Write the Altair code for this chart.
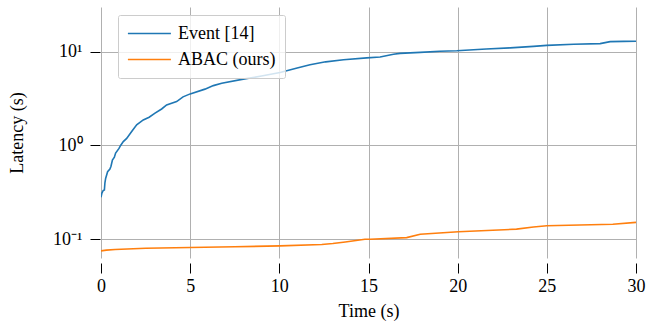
import altair as alt
import pandas as pd

event_t = [0.0, 0.05, 0.12, 0.19, 0.22, 0.26, 0.37, 0.5, 0.56, 0.64, 0.75, 0.82, 1.01, 1.1, 1.25,
           1.44, 1.72, 2.0, 2.37, 2.7, 3.03, 3.4, 3.68, 4.24, 4.6, 5.0, 5.83, 6.3, 6.77, 7.98,
           9.0, 10.04, 11.0, 11.72, 12.6, 13.6, 14.9, 15.65, 16.4, 16.77, 17.9, 19.0, 19.95,
           21.6, 22.94, 24.25, 25.0, 26.5, 27.99, 28.55, 29.3, 30.0]
event_v = [0.28, 0.31, 0.33, 0.335, 0.40, 0.445, 0.525, 0.56, 0.60, 0.70, 0.75, 0.83, 0.93, 1.0, 1.10,
           1.19, 1.41, 1.66, 1.87, 2.0, 2.21, 2.45, 2.71, 2.94, 3.3, 3.55, 3.99, 4.35, 4.62, 5.1,
           5.5, 6.0, 6.7, 7.26, 7.8, 8.2, 8.6, 8.77, 9.4, 9.6, 9.84, 10.1, 10.25,
           10.7, 11.0, 11.4, 11.7, 12.0, 12.2, 12.8, 12.9, 12.95]

abac_t = [0.0, 0.3, 0.79, 2.5, 4.99, 7.5, 10.04, 12.38, 13.0, 13.7, 14.8, 15.1, 17.14, 17.9,
          20.04, 23.3, 24.25, 25.0, 28.7, 30.0]
abac_v = [0.075, 0.0765, 0.0776, 0.080, 0.0815, 0.083, 0.0848, 0.0877, 0.090, 0.0935, 0.100, 0.100,
          0.104, 0.113, 0.12, 0.128, 0.135, 0.139, 0.1445, 0.151]

series = ["Event [14]", "ABAC (ours)"]
colors = ["#1f77b4", "#ff7f0e"]
x_ticks = [0, 5, 10, 15, 20, 25, 30]
y_ticks = [0.1, 1, 10]

df = pd.concat([
    pd.DataFrame({"time": event_t, "latency": event_v, "method": series[0], "order": range(len(event_t))}),
    pd.DataFrame({"time": abac_t, "latency": abac_v, "method": series[1], "order": range(len(abac_t))}),
])

FONT = "Liberation Serif"

chart = alt.Chart(df).mark_line(strokeWidth=1.6, clip=True).encode(
    x=alt.X("time:Q", title="Time (s)",
            scale=alt.Scale(domain=[0, 30], nice=False, zero=False),
            axis=alt.Axis(values=x_ticks, format="d", offset=5, domain=False, tickSize=10,
                          tickColor="#000000", tickWidth=1, labelPadding=4,
                          labelFlush=False, labelOverlap=False,
                          gridColor="#b0b0b0", gridWidth=1,
                          labelFont=FONT, labelFontSize=18, labelColor="#000000",
                          titleFont=FONT, titleFontSize=18, titleFontWeight="normal",
                          titleColor="#000000",
                          titleY=48, titleBaseline="middle")),
    y=alt.Y("latency:Q", title="Latency (s)",
            scale=alt.Scale(type="log", domain=[0.063, 30], nice=False),
            axis=alt.Axis(values=y_ticks, domain=False, tickSize=10, offset=1,
                          tickColor="#000000", tickWidth=1, labelPadding=8,
                          labelFlush=False,
                          labelExpr="datum.value >= 5 ? '10¹' : (datum.value >= 0.5 ? '10⁰' : '10⁻¹')",
                          gridColor="#b0b0b0", gridWidth=1,
                          labelFont=FONT, labelFontSize=18, labelColor="#000000",
                          titleFont=FONT, titleFontSize=18, titleFontWeight="normal",
                          titleColor="#000000",
                          titleX=-83, titleBaseline="middle")),
    color=alt.Color("method:N", sort=series,
                    scale=alt.Scale(domain=series, range=colors),
                    legend=alt.Legend(title=None, orient="none", legendX=17, legendY=8,
                                      symbolType="M-1,0H4", symbolSize=296, symbolStrokeWidth=1.6,
                                      labelOffset=32, rowPadding=7, padding=9,
                                      strokeColor="#cccccc", fillColor="rgba(255,255,255,0.8)",
                                      cornerRadius=2, labelFontSize=18, labelFont=FONT,
                                      labelColor="#000000")),
    order="order:Q",
).properties(
    width=535, height=251,
    background="white",
    autosize=alt.AutoSizeParams(type="none"),
    padding={"left": 101, "top": 7, "right": 12, "bottom": 66},
).configure_view(stroke=None)

chart.save("out.html", embed_options={"renderer": "svg", "actions": False})
